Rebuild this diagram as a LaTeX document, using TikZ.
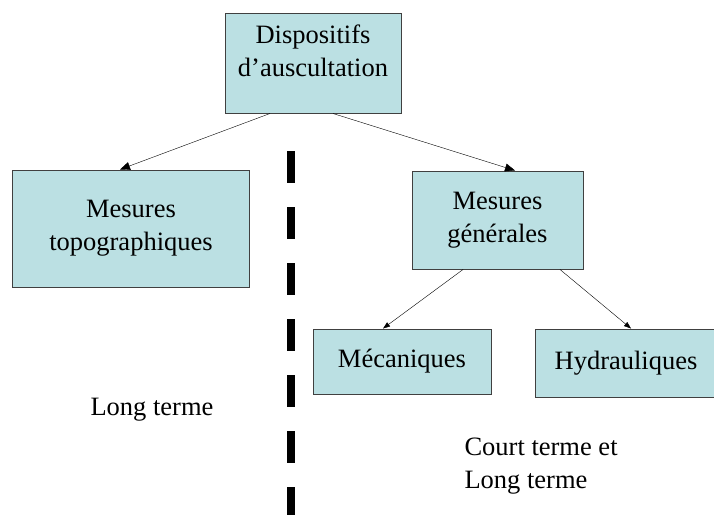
\documentclass[tikz,border=0pt]{standalone}
\usepackage{fontspec}
\setmainfont{Liberation Serif}
\usetikzlibrary{arrows.meta}
\definecolor{boxfill}{RGB}{187,224,227}

\begin{document}
\begin{tikzpicture}[x=1pt, y=-1pt, thin, font=\fontsize{26.5}{33}\selectfont,
    main/.style = {draw=black!75, fill=boxfill, line width=1pt, align=center, inner sep=0pt},
    fleche/.style = {-{Triangle[length=10pt,width=8pt]}}]
    \useasboundingbox (0,0) rectangle (714,515);
    \node[main, minimum width=176, minimum height=100, text depth=24pt] (disp) at (313,63) {Dispositifs\\d'auscultation};
    \node[main, minimum width=237, minimum height=117] (topo) at (131,228.5) {Mesures\\topographiques};
    \node[main, minimum width=171, minimum height=98] (gen) at (497.5,220) {Mesures\\générales};
    \node[main, minimum width=178, minimum height=65] (meca) at (402,361.5) {Mécaniques};
    \node[main, minimum width=182, minimum height=68] (hydr) at (626,363) {Hydrauliques};

    \node[anchor=west] (long) at (87,410) {Long terme};
    \node[anchor=north west, align=left] (court) at (461,434) {Court terme et\\Long terme};

    \coordinate (haut) at (291,151);
    \coordinate (bas) at (291,515);

\draw[fleche] ([xshift=-43]disp.south) -- ([xshift=-11]topo.north);
\draw[fleche] ([xshift=20]disp.south) -- ([xshift=17.5]gen.north);
\draw[-{Triangle[length=7pt,width=5pt]}] ([xshift=-34.5]gen.south) -- ([xshift=-19]meca.north);
\draw[-{Triangle[length=7pt,width=5pt]}] ([xshift=62.5]gen.south) -- ([xshift=5]hydr.north);
\draw[line width=8pt, dash pattern=on 32pt off 24pt] (haut) -- (bas);
\end{tikzpicture}
\end{document}
